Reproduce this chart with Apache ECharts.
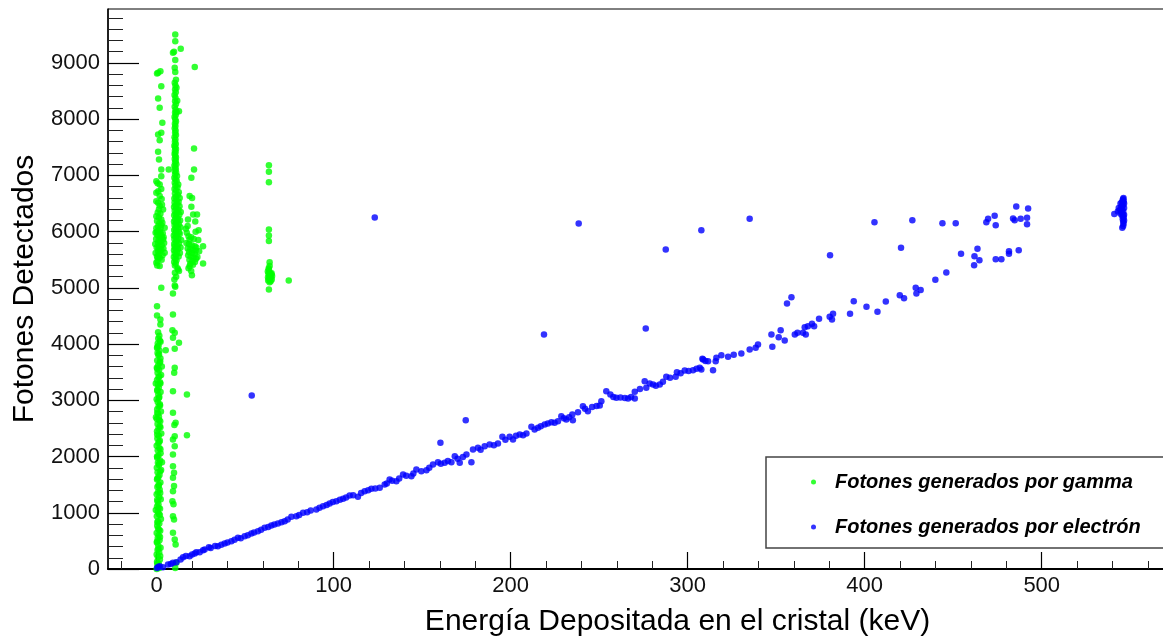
<!DOCTYPE html>
<html>
<head>
<meta charset="utf-8">
<title>Fotones detectados vs energía depositada</title>
<script src="https://cdn.jsdelivr.net/npm/echarts@6/dist/echarts.min.js"></script>
<style>
  html, body { margin: 0; padding: 0; background: #fff; }
  #chart { width: 1163px; height: 639px; }
</style>
</head>
<body>
<div id="chart"></div>
<script>
// Axis tick values
const xTicks = [0, 100, 200, 300, 400, 500];
const yTicks = [0, 1000, 2000, 3000, 4000, 5000, 6000, 7000, 8000, 9000];

// Photons from gamma interactions: [energy keV, photons]
// column near 0 keV, lower band
const gammaLowA = [
  [0,0],[0.5,40],[1.2,90],[0.2,130],[1.8,170],[0.7,210],[0,260],[1.4,300],[0.5,340],[2.2,380],
  [0.9,420],[0.1,470],[1.6,510],[0.6,550],[1.1,600],[0,640],[2.0,680],[0.8,720],[0.3,770],[1.5,810],
  [0.7,850],[2.4,890],[0.1,940],[1.2,980],[0.6,1020],[1.9,1070],[0.2,1110],[1.0,1150],[0.5,1200],[2.3,1240],
  [1.4,1280],[0.0,1330],[0.8,1370],[1.7,1410],[0.4,1460],[1.1,1500],[2.1,1540],[0.2,1590],[0.9,1630],[1.6,1670],
  [0.5,1720],[2.5,1760],[0.1,1800],[1.3,1850],[0.7,1890],[1.9,1930],[0.3,1980],[1.0,2020],[2.2,2060],[0.6,2110],
  [1.5,2150],[0.0,2190],[0.9,2240],[1.8,2280],[0.4,2320],[1.2,2370],[2.6,2410],[0.2,2450],[1.0,2500],[1.7,2540],
  [0.5,2580],[2.0,2630],[0.1,2670],[1.3,2710],[0.8,2760],[2.4,2800],[0.3,2840],[1.1,2890],[1.8,2930],[0.6,2970],
  [0.0,3020],[1.5,3060],[0.9,3100],[2.2,3150],[0.4,3190],[1.2,3230],[0.7,3280],[1.9,3320],[0.2,3360],[1.0,3410],
  [2.5,3450],[0.5,3490],[1.4,3540],[0.1,3580],[0.8,3620],[1.7,3670],[0.3,3710],[2.1,3750],[1.0,3800],[0.5,3840],
  [1.6,3880],[0.2,3930],[1.1,3970],[0.6,4010],[1.8,4060],[0.9,4100],
  [1.5,20],[0.3,100],[2.0,230],[1.0,360],[0.2,490],[1.9,570],[1.3,700],[0.4,830],[1.8,960],[1.1,1090],
  [0.3,1230],[2.0,1350],[1.2,1480],[0.4,1610],[2.0,1740],[1.4,1870],[0.2,2000],[2.1,2130],[1.4,2260],[0.3,2390],
  [2.1,2520],[1.4,2650],[0.3,2780],[1.9,2910],[1.2,3040],[0.3,3170],[2.1,3300],[1.5,3430],[0.3,3560],[2.0,3690],
  [1.3,3820],[0.4,3950],[2.2,4040],[-0.5,1050],[-0.4,2700],[3.0,1900],[2.9,3600],[-0.5,3300],
  [0.8,4212],[1.5,4150],[2.1,4349],[2.1,4438],[0.2,4509],[0.2,4675],[2.6,5002],[5.1,3892]
];
// column near 0 keV, upper band
const gammaHighA = [
  [0.3,5400],[1.7,5387],[-0.2,5447],[1.7,5535],[0.5,5480],[2.8,5500],[4.5,5624],[0.2,5560],[1.2,5590],[3.3,5580],
  [-0.6,5620],[2.6,5683],[0.8,5650],[1.9,5660],[3.8,5700],[0.0,5720],[1.4,5740],[2.9,5760],[-0.8,5780],[0.8,5802],
  [4.2,5800],[2.2,5820],[3.6,5861],[1.1,5850],[-0.3,5870],[1.7,5920],[2.9,5900],[0.4,5940],[-0.6,5980],[3.4,5970],
  [2.0,6000],[1.0,6020],[4.5,6070],[0.8,6098],[-0.2,6060],[2.6,6120],[1.5,6150],[3.2,6160],[0.2,6190],[2.6,6217],
  [-0.2,6276],[1.2,6250],[3.6,6395],[2.1,6320],[0.6,6340],[0.8,6514],[1.7,6460],[3.0,6480],[-0.2,6540],[1.7,6632],
  [2.8,6580],[-0.2,6692],[0.9,6720],[2.6,6760],[-0.2,6898],[1.7,6840],[0.5,6860],[2.6,6987],[2.6,7106],[1.3,7284],
  [0.8,7421],[1.7,7627],[0.8,7728],[2.6,7758],[3.2,7937],[1.7,8203],[0.8,8369],[2.6,8588],[0.2,8814],[0.8,8826],
  [2.1,8855],[1.0,5700],[2.4,5950],[0.1,6000],[1.3,6400],[3.9,5900],[0.6,5540],[2.2,6060]
];
// column near 11 keV
const gammaColB = [
  [10.5,20],[11.1,110],[10.7,436],[10.2,525],[9.2,644],[9.8,880],[9.2,940],[8.9,1206],[9.5,1150],[9.2,1384],
  [9.8,1474],[9.2,1622],[9.8,1711],[9.2,1829],[9.2,2037],[10.2,2184],[9.2,2303],[10.2,2362],[10.7,2600],[10.0,2560],
  [9.2,2778],[9.2,3163],[9.9,3490],[10.2,3579],[10.2,3917],[12.6,4023],[9.2,4112],[10.2,4201],[8.9,4248],[9.2,4527],
  [9.2,4900],[10.5,5020],[10.2,5043],[10.0,5150],[11.0,5200],[10.3,5270],[12.6,5300],[12.0,5327],[11.8,5350],
  [10.3,5400],[10.8,5430],[9.9,5460],[11.2,5490],[10.5,5520],[9.7,5550],[12.4,5560],[10.9,5580],[10.2,5610],[13.1,5620],
  [11.4,5640],[9.8,5670],[12.0,5690],[10.6,5700],[13.5,5720],[10.1,5730],[11.7,5750],[9.9,5780],[12.6,5790],[10.7,5810],
  [11.3,5840],[13.8,5850],[10.0,5870],[12.2,5880],[10.8,5900],[9.7,5930],[11.6,5940],[13.0,5960],[10.4,5970],[12.7,5990],
  [11.0,6010],[9.9,6030],[12.1,6050],[10.6,6060],[13.4,6080],[11.3,6100],[10.1,6120],[12.5,6130],[10.9,6150],[9.8,6180],
  [11.8,6190],[13.2,6200],[10.4,6220],[12.0,6240],[11.1,6260],[9.9,6290],[12.8,6300],[10.7,6320],[11.5,6340],[13.6,6350],
  [10.2,6370],[12.3,6390],[11.0,6410],[9.8,6440],[12.9,6450],[10.6,6470],[11.7,6490],[10.1,6520],[12.4,6530],[11.2,6560],
  [10.0,6590],[13.0,6600],[10.8,6620],[11.9,6650],[10.3,6680],[12.5,6700],[11.0,6730],[10.1,6760],[11.7,6790],[10.6,6820],
  [12.2,6840],[10.2,6870],[11.3,6900],[10.7,6930],[10.0,6960],[11.5,6990],[10.4,7020],[11.0,7050],[10.2,7080],[10.8,7110],
  [10.5,7140],[10.0,7170],[11.1,7200],[10.4,7230],[10.8,7260],[10.2,7290],[10.9,7320],[10.5,7350],[10.1,7380],[10.7,7410],
  [10.3,7440],[10.9,7470],[10.4,7500],[10.0,7530],[10.8,7560],[10.3,7600],[10.6,7640],[10.1,7680],[10.9,7720],[10.4,7760],
  [10.7,7800],[10.2,7840],[10.6,7880],[10.3,7920],[10.9,7960],[10.5,8000],[10.1,8040],[10.8,8080],[10.4,8120],[11.3,8130],
  [12.6,8143],[10.7,8170],[10.2,8220],[10.9,8270],[10.4,8320],[11.6,8330],[10.6,8380],[10.1,8430],[10.8,8480],[10.4,8530],
  [11.2,8560],[10.6,8600],[10.2,8650],[10.9,8700],[10.5,8838],[10.2,8916],[10.5,9052],[9.2,9182],[9.8,9200],[13.6,9253],
  [10.5,9388],[10.5,9507],[6.8,7106],[17.1,3104],[17.1,2380]
];
// cluster between 16 and 28 keV
const gammaColC = [
  [21.5,8927],[21.1,7480],[21.1,7106],[19.6,6958],[18.6,6632],[20.0,6600],[19.6,6443],[17.7,6217],[20.6,6306],[22.8,6306],
  [23.7,6026],[17.5,6100],[18.6,5861],[26.2,5742],[26.2,5434],[18.6,5387],[19.9,5226],[17.0,5980],[18.0,5920],[19.5,5900],
  [21.0,5870],[16.8,5800],[18.2,5780],[19.8,5760],[21.5,5740],[22.4,5720],[17.5,5700],[19.0,5690],[20.5,5670],[22.0,5660],
  [18.3,5640],[20.0,5620],[21.5,5600],[17.8,5580],[19.2,5560],[20.8,5540],[22.2,5520],[18.5,5500],[20.2,5480],[21.6,5460],
  [19.0,5430],[20.5,5410],[18.0,5350],[19.5,5300],[22.0,6000],[23.5,5850],[24.0,5650],[23.0,5550],[16.5,6050],[21.8,6180]
];
// cluster near 64 keV and a lone point at 75 keV
const gammaColD = [
  [63.4,7183],[63.4,7065],[63.4,6880],[63.4,6039],[63.4,5932],[63.4,5832],[63.8,5457],[63.8,5387],[63.4,5328],[62.8,5290],
  [64.0,5270],[63.2,5250],[64.8,5240],[63.6,5220],[65.2,5210],[62.9,5190],[64.3,5180],[63.5,5160],[65.0,5150],[63.0,5130],
  [64.4,5120],[63.8,5100],[64.9,5260],[63.3,5350],[63.4,4972],[74.6,5132]
];

// Photons from electron interactions: [energy keV, photons]
const electronLine = [
  [0.2,20],[0.8,35],[1.7,50],[3.5,30],[6.4,80],[8,90],[9.2,110],[11.1,121],[13.5,170],[14.9,210],
  [16.5,230],[18.6,228],[20,260],[21.5,276],[22.4,300],[24.3,299],[26.2,335],[27.1,347],[29.5,388],[30.5,372],
  [33,410],[34.6,406],[36.5,430],[38.4,454],[40,470],[42.2,495],[44,520],[45.9,555],[47.5,545],[49.7,584],
  [51.5,600],[53.5,631],[55,650],[57.2,672],[59,700],[61,733],[63,745],[64.8,774],[66.5,790],[68.5,809],
  [70.5,830],[72.3,850],[74,880],[76.1,928],[78.9,939],[80.5,960],[82.7,1000],[85,1010],[87,1040],[90.2,1058],
  [92,1090],[94,1117],[96,1140],[97.7,1165],[99.5,1190],[101.5,1206],[103.5,1230],[105.3,1249],[107,1270],[109,1307],
  [111,1310],[113.7,1284],[115.5,1350],[117.5,1384],[119.5,1400],[121.3,1427],[123.5,1430],[126,1444],[128.8,1503],[130,1520],
  [131.6,1592],[133,1570],[135.4,1562],[137,1610],[139.2,1681],[141,1660],[143.9,1651],[145,1700],[146.7,1770],[149.5,1740],
  [152.4,1757],[154,1800],[156.1,1859],[158.9,1900],[160.5,1870],[162.7,1889],[164.5,1920],[166.5,1900],[168.4,2007],[170,1960],
  [171.2,1889],[173,1990],[175,2037],[177.8,1900],[178.7,2126],[181.5,2155],[183,2120],[185.3,2185],[188.1,2215],[190.5,2200],
  [192.8,2232],[195.3,2351],[197,2300],[199.4,2351],[201.3,2303],[203,2370],[205.1,2392],[207,2380],[208.9,2410],[211.7,2529],
  [213.5,2480],[215.4,2511],[217,2540],[219.2,2570],[221,2590],[223,2611],[224.8,2600],[226.7,2629],[228.6,2718],[230,2680],
  [231.4,2659],[233,2700],[234.8,2748],[235.1,2647],[238,2790],[240.8,2896],[242,2850],[243.6,2807],[246,2880],[248.5,2900],
  [250.3,2908],[251.2,2985],[254,3163],[256.3,3104],[258,3060],[259.7,3045],[262,3050],[264.5,3040],[266.3,3033],[268,3060],
  [270.1,3152],[270.1,3033],[273,3200],[275.7,3341],[276.6,3223],[278.5,3300],[280.4,3282],[282,3260],[284.2,3282],[286,3330],
  [287.9,3419],[290,3400],[293.2,3419],[293.9,3500],[296,3480],[298.3,3530],[300.5,3520],[303,3536],[305,3560],[306.8,3578],
  [307.7,3549],[308.3,3739],[308.7,3726],[310,3700],[311.5,3696],[314.3,3536],[315.8,3697],[316.2,3757],[319,3803],[322.8,3774],
  [326,3810],[330.3,3833],[335,3904],[338.4,3934],[339.7,3993],[347.3,4171],[347.8,3952],[351.4,4124],[352.5,4248],[354.8,4064],
  [360.5,4171],[362,4201],[365.1,4201],[366.7,4171],[366.1,4301],[367.9,4319],[370.2,4361],[371.4,4319],[374.2,4450],[380.2,4486],
  [381.5,4438],[382.1,4539],[391.7,4539],[393.8,4764],[401,4664],[407.2,4575],[411.9,4758],[419.8,4870],[422.2,4817],[428.8,5002],
  [429.2,4900],[431.6,4960],[439.9,5144],[446.1,5274],[454.4,5606],[461.8,5404],[462,5564],[463.7,5695],[464.8,5493],[474,5511],
  [477.2,5511],[481.5,5606],[481.5,5653],[487,5671]
];
const electronUpper = [
  [53.7,3086],[123.2,6252],[160.3,2245],[174.6,2647],[218.8,4171],[238.4,6146],[276.3,4278],[287.6,5683],[307.7,6026],[335,6229],
  [356.1,4722],[358.6,4835],[380.4,5582],[405.5,6169],[420.5,5713],[426.9,6204],[443.9,6151],[451.4,6151],[468.7,6169],[469.7,6229],
  [473.4,6282],[474,6115],[483.8,6234],[484.7,6204],[485.6,6448],[488.1,6229],[491.7,6247],[491.7,6133],[492.3,6412]
];
// full-absorption cluster near 546 keV
const electronPeak = [
  [545.5,6069],[546,6100],[546.2,6140],[546,6180],[545.8,6220],[546.3,6250],[545.5,6280],[546,6300],[541,6314],[544.5,6320],
  [545,6350],[546,6360],[544,6380],[545.5,6400],[546.5,6420],[544.8,6440],[545.5,6460],[546,6480],[544.5,6500],[545.2,6520],
  [546.3,6540],[545.7,6560],[546,6580],[546.2,6600],[543.5,6420],[543,6360],[546.5,6200],[546.5,6300],[546.5,6500]
];

const gammaPoints = gammaLowA.concat(gammaHighA, gammaColB, gammaColC, gammaColD);
const electronPoints = electronLine.concat(electronUpper, electronPeak);

const seriesNames = ['Fotones generados por gamma', 'Fotones generados por electrón'];
const seriesColors = ['#00ff00', '#0000ff'];

// minor tick positions between the labelled ticks
const xMinor = [];
for (let v = -20; v <= 560; v += 20) if (v % 100 !== 0) xMinor.push(v);
const yMinor = [];
for (let v = 200; v <= 9800; v += 200) if (v % 1000 !== 0) yMinor.push(v);

const FONT = '"Liberation Sans", Arial, Helvetica, sans-serif';

const X_MIN = -27.5, X_MAX = 570.2, Y_MIN = 0, Y_MAX = 9960;
const plain = v => String(v);

const chart = echarts.init(document.getElementById('chart'), null, { renderer: 'canvas' });
chart.setOption({
  animation: false,
  backgroundColor: '#ffffff',
  grid: {
    left: 108, top: 9, right: -3, bottom: 70,
    outerBoundsMode: 'none', containLabel: false,
    show: true, borderColor: '#000', borderWidth: 1, backgroundColor: 'transparent'
  },
  xAxis: [
    {
      type: 'value', min: X_MIN, max: X_MAX, position: 'bottom',
      name: 'Energía Depositada en el cristal (keV)',
      nameLocation: 'middle', nameGap: 38,
      nameTextStyle: { fontFamily: FONT, fontSize: 30, color: '#000', padding: [0, 0, 0, 81] },
      axisLine: { show: true, onZero: false, lineStyle: { color: '#000', width: 2 } },
      axisTick: { show: true, inside: true, length: 17, customValues: xTicks, lineStyle: { color: '#000', width: 1.2 } },
      axisLabel: { customValues: xTicks, formatter: plain, margin: 6, fontFamily: FONT, fontSize: 22, color: '#111' },
      splitLine: { show: false }
    },
    {
      type: 'value', min: X_MIN, max: X_MAX, position: 'bottom',
      axisLine: { show: false, onZero: false },
      axisTick: { show: true, inside: true, length: 8, customValues: xMinor, lineStyle: { color: '#222', width: 1 } },
      axisLabel: { show: false },
      splitLine: { show: false }
    }
  ],
  yAxis: [
    {
      type: 'value', min: Y_MIN, max: Y_MAX, position: 'left',
      name: 'Fotones Detectados',
      nameLocation: 'middle', nameGap: 68, nameRotate: 90,
      nameTextStyle: { fontFamily: FONT, fontSize: 30, color: '#000' },
      axisLine: { show: true, onZero: false, lineStyle: { color: '#000', width: 1.5 } },
      axisTick: { show: true, inside: true, length: 31, customValues: yTicks, lineStyle: { color: '#000', width: 1.2 } },
      axisLabel: { customValues: yTicks, formatter: plain, margin: 8, fontFamily: FONT, fontSize: 22, color: '#111' },
      splitLine: { show: false }
    },
    {
      type: 'value', min: Y_MIN, max: Y_MAX, position: 'left',
      axisLine: { show: false, onZero: false },
      axisTick: { show: true, inside: true, length: 15, customValues: yMinor, lineStyle: { color: '#222', width: 1 } },
      axisLabel: { show: false },
      splitLine: { show: false }
    }
  ],
  graphic: [
    {
      type: 'rect', z: 5,
      shape: { x: 766, y: 457, width: 420, height: 91 },
      style: { fill: '#ffffff', stroke: '#444', lineWidth: 1.5 }
    }
  ],
  legend: {
    z: 6,
    orient: 'vertical', left: 806, top: 466,
    itemWidth: 5, itemHeight: 5, itemGap: 23,
    textStyle: {
      fontFamily: FONT, fontSize: 20, fontWeight: 'bold', fontStyle: 'italic',
      color: '#000', lineHeight: 22, padding: [0, 0, 0, 14]
    },
    data: seriesNames
  },
  series: [
    {
      name: seriesNames[0], type: 'scatter', xAxisIndex: 0, yAxisIndex: 0,
      symbol: 'circle', symbolSize: 6.5,
      itemStyle: { color: seriesColors[0] },
      data: gammaPoints
    },
    {
      name: seriesNames[1], type: 'scatter', xAxisIndex: 0, yAxisIndex: 0,
      symbol: 'circle', symbolSize: 6.5,
      itemStyle: { color: seriesColors[1] },
      data: electronPoints
    }
  ]
});
</script>
</body>
</html>
